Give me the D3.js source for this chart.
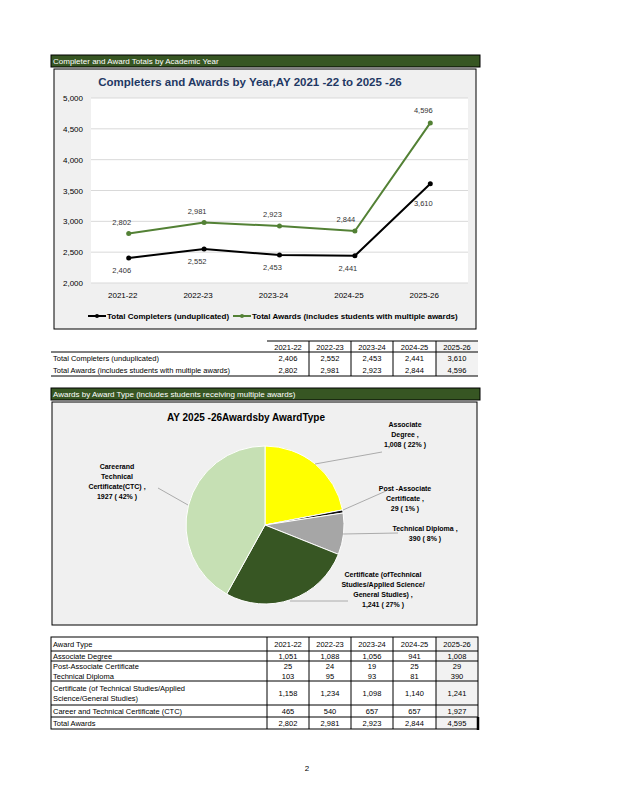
<!DOCTYPE html><html><head><meta charset="utf-8"><script src="https://d3js.org/d3.v7.min.js"></script>
<style>body{margin:0;background:#fff}svg{font-family:"Liberation Sans Narrow","Liberation Sans",Arial,sans-serif}</style></head><body><svg id="s" width="618" height="800"></svg>
<script>
const years=["2021-22","2022-23","2023-24","2024-25","2025-26"];
const completers=[2406,2552,2453,2441,3610];
const awards=[2802,2981,2923,2844,4596];
const yTicks=[2000,2500,3000,3500,4000,4500,5000];
const pieTypes=["Associate Degree","Post-Associate Certificate","Technical Diploma","Certificate (of Technical Studies/Applied Science/General Studies)","Career and Technical Certificate (CTC)"];
const pieValues=[1008,29,390,1241,1927];
const pieColors=["#ffff00","#111111","#a6a6a6","#375623","#c6e0b4"];
const tblRows=["Associate Degree","Post-Associate Certificate","Technical Diploma","Certificate (of Technical Studies/Applied|Science/General Studies)","Career and Technical Certificate (CTC)","Total Awards"];
const tblVals=[[1051,1088,1056,941,1008],[25,24,19,25,29],[103,95,93,81,390],[1158,1234,1098,1140,1241],[465,540,657,657,1927],[2802,2981,2923,2844,4595]];
const fmt=d3.format(",");
const svg=d3.select("#s");
function bar(y,t){svg.append("rect").attr("x",51).attr("y",y).attr("width",429).attr("height",12).attr("fill","#375623").attr("stroke","#000");
 svg.append("text").attr("x",53).attr("y",y+9).attr("font-size",8).attr("fill","#fff").text(t);}
bar(55,"Completer   and  Award  Totals  by  Academic    Year");
svg.append("rect").attr("x",54).attr("y",69).attr("width",422).attr("height",260).attr("fill","#f0f0f0").attr("stroke","#000");
svg.append("text").attr("x",250).attr("y",86).attr("text-anchor","middle").attr("font-size",11.5).attr("font-weight","bold").attr("fill","#1f3864").text("Completers   and  Awards  by  Year,AY   2021  -22  to  2025  -26");
const x=d3.scaleBand().domain(years).range([91,468]);
const y=d3.scaleLinear().domain([2000,5000]).range([283,98]);
svg.append("rect").attr("x",91).attr("y",98).attr("width",377).attr("height",185).attr("fill","#fff");
yTicks.forEach(t=>{svg.append("line").attr("x1",91).attr("x2",468).attr("y1",y(t)).attr("y2",y(t)).attr("stroke","#d9d9d9");
 svg.append("text").attr("x",73).attr("y",y(t)+3).attr("text-anchor","middle").attr("font-size",8).text(fmt(t));});
years.forEach(yr=>svg.append("text").attr("x",x(yr)+x.bandwidth()/2-6).attr("y",298).attr("text-anchor","middle").attr("font-size",8).text(yr));
const cx=d=>x(d)+x.bandwidth()/2;
const line=d3.line().x((d,i)=>cx(years[i])).y(d=>y(d));
[[awards,"#538135",-1],[completers,"#000",1]].forEach(([arr,c,dir])=>{
 svg.append("path").attr("d",line(arr)).attr("fill","none").attr("stroke",c).attr("stroke-width",2);
 arr.forEach((v,i)=>{svg.append("circle").attr("cx",cx(years[i])).attr("cy",y(v)).attr("r",2.5).attr("fill",c);
  let ly=y(v)+(dir<0?-9:15); if(i==4&&dir>0)ly=y(v)+22; if(i==4&&dir<0)ly=y(v)-10;
  svg.append("text").attr("x",cx(years[i])-7+(i==3&&dir<0?-2:0)).attr("y",ly).attr("text-anchor","middle").attr("font-size",7.5).attr("fill","#333").text(fmt(v));});});
[["Total Completers (unduplicated)","#000",88],["Total Awards (includes students with multiple awards)","#538135",233]].forEach(([t,c,lx])=>{
 svg.append("line").attr("x1",lx).attr("x2",lx+18).attr("y1",316).attr("y2",316).attr("stroke",c).attr("stroke-width",2);
 svg.append("circle").attr("cx",lx+9).attr("cy",316).attr("r",2).attr("fill",c);
 svg.append("text").attr("x",lx+19).attr("y",319).attr("font-size",8).attr("font-weight","bold").text(t);});
// table 1
const cb=[267,309,351,393,436,478];
svg.append("rect").attr("x",436).attr("y",341).attr("width",42).attr("height",35).attr("fill","#f2f2f2");
svg.append("line").attr("x1",267).attr("x2",478).attr("y1",341).attr("y2",341).attr("stroke","#000");
svg.append("line").attr("x1",51).attr("x2",478).attr("y1",352).attr("y2",352).attr("stroke","#000");
svg.append("line").attr("x1",51).attr("x2",478).attr("y1",376).attr("y2",376).attr("stroke","#000");
cb.slice(1,5).forEach(b=>svg.append("line").attr("x1",b).attr("x2",b).attr("y1",341).attr("y2",376).attr("stroke","#000"));
years.forEach((yr,i)=>svg.append("text").attr("x",(cb[i]+cb[i+1])/2).attr("y",350).attr("text-anchor","middle").attr("font-size",7.5).text(yr));
[["Total  Completers      (unduplicated)",completers,361],["Total  Awards    (includes    students    with    multiple    awards)",awards,373]].forEach(([t,a,ry])=>{
 svg.append("text").attr("x",53).attr("y",ry).attr("font-size",7.5).text(t);
 a.forEach((v,i)=>svg.append("text").attr("x",(cb[i]+cb[i+1])/2).attr("y",ry).attr("text-anchor","middle").attr("font-size",7.5).text(fmt(v)));});
// pie
bar(388,"Awards   by  Award   Type   (includes     students     receiving     multiple     awards)");
svg.append("rect").attr("x",52).attr("y",402).attr("width",425).attr("height",223).attr("fill","#f0f0f0").attr("stroke","#000");
svg.append("text").attr("x",246).attr("y",421).attr("text-anchor","middle").attr("font-size",10).attr("font-weight","bold").text("AY   2025   -26Awardsby          AwardType");
const pcx=265,pcy=525,R=79;
const arcs=d3.pie().sort(null)(pieValues);
const arc=d3.arc().innerRadius(0).outerRadius(R);
const g=svg.append("g").attr("transform",`translate(${pcx},${pcy})`);
g.selectAll("path").data(arcs).join("path").attr("d",arc).attr("fill",(d,i)=>pieColors[i]).attr("stroke","#fff").attr("stroke-width",1);
const tot=d3.sum(pieValues);
const labs=[[["Associate","Degree      ,",fmt(1008)+"  ( 22%  )"],405,427,[[315,464],[382,452]]],
 [["Post   -Associate","Certificate        ,","29  ( 1%  )"],405,491,[[343,510],[386,491]]],
 [["Technical       Diploma      ,","390   ( 8%  )"],425,531,[[343,534],[398,533]]],
 [["Certificate      (ofTechnical","Studies/Applied          Science/","General       Studies)    ,","1,241   ( 27%  )"],383,577,[[290,601],[348,601]]],
 [["Careerand","Technical","Certificate(CTC)       ,","1927   ( 42%  )"],117,469,[[188,505],[158,488]]]];
labs.forEach(([ls,lx,ly,pts])=>{ls.forEach((l,k)=>svg.append("text").attr("x",lx).attr("y",ly+k*10).attr("text-anchor","middle").attr("font-size",7).attr("font-weight","bold").text(l));
 svg.append("polyline").attr("points",pts.map(p=>p.join(",")).join(" ")).attr("fill","none").attr("stroke","#999").attr("stroke-width",0.8);});
// table 2
const rb=[637,651,661,671,681,705,717,729];
svg.append("rect").attr("x",436).attr("y",637).attr("width",42).attr("height",92).attr("fill","#f2f2f2");
svg.append("rect").attr("x",51).attr("y",637).attr("width",427).attr("height",92).attr("fill","none").attr("stroke","#000");
svg.append("line").attr("x1",478).attr("x2",478).attr("y1",717).attr("y2",730).attr("stroke","#000").attr("stroke-width",2.5);
[1,2,4,5,6].forEach(k=>svg.append("line").attr("x1",51).attr("x2",478).attr("y1",rb[k]).attr("y2",rb[k]).attr("stroke","#000"));
cb.slice(0,5).forEach(b=>svg.append("line").attr("x1",b).attr("x2",b).attr("y1",637).attr("y2",729).attr("stroke","#000"));
svg.append("text").attr("x",53).attr("y",647).attr("font-size",7.5).text("Award    Type");
years.forEach((yr,i)=>svg.append("text").attr("x",(cb[i]+cb[i+1])/2).attr("y",647).attr("text-anchor","middle").attr("font-size",7.5).text(yr));
tblRows.forEach((r,k)=>{const y0=rb[k+1],y1=rb[k+2],mid=(y0+y1)/2;const parts=r.split("|");
 parts.forEach((p,j)=>svg.append("text").attr("x",53).attr("y",mid+3+(parts.length>1?(j-0.5)*10:0)).attr("font-size",7.5).text(p.replace(/ /g,"    ")));
 tblVals[k].forEach((v,i)=>svg.append("text").attr("x",(cb[i]+cb[i+1])/2).attr("y",mid+3).attr("text-anchor","middle").attr("font-size",7.5).text(fmt(v)));});
svg.append("text").attr("x",307).attr("y",771).attr("text-anchor","middle").attr("font-size",8).text("2");
</script></body></html>
